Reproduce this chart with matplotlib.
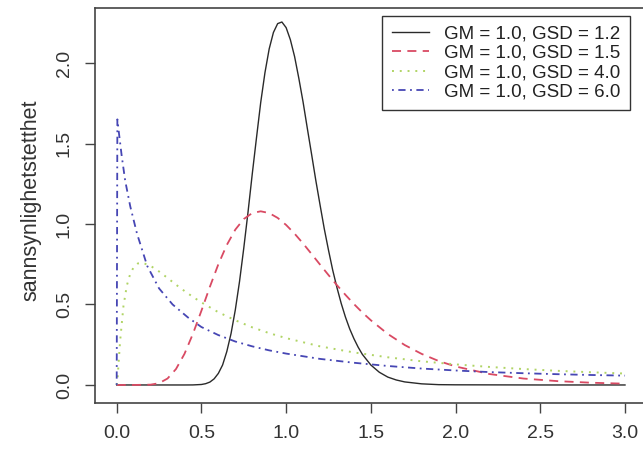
import numpy as np
import matplotlib.pyplot as plt

plt.rcParams['font.family'] = ['Liberation Sans', 'DejaVu Sans']

# values
x_12 = [0.0, 0.1, 0.2, 0.3, 0.4, 0.45, 0.5, 0.525, 0.55, 0.575, 0.6, 0.625, 0.65, 0.675,
        0.7, 0.725, 0.75, 0.775, 0.8, 0.825, 0.85, 0.875, 0.9, 0.925, 0.95, 0.975, 1.0,
        1.025, 1.05, 1.075, 1.1, 1.125, 1.15, 1.175, 1.2, 1.225, 1.25, 1.275, 1.3, 1.325,
        1.35, 1.375, 1.4, 1.425, 1.45, 1.5, 1.55, 1.6, 1.65, 1.7, 1.8, 1.9, 2.0, 2.5, 3.0]
y_12 = [0.0, 0.0, 0.0, 0.0, 0.0, 0.0003, 0.003, 0.008, 0.018, 0.038, 0.072, 0.124, 0.208, 0.320,
        0.466, 0.643, 0.850, 1.073, 1.310, 1.535, 1.755, 1.940, 2.088, 2.190, 2.245, 2.255, 2.220,
        2.145, 2.040, 1.905, 1.758, 1.595, 1.435, 1.272, 1.120, 0.971, 0.838, 0.713, 0.605, 0.507,
        0.422, 0.349, 0.288, 0.235, 0.190, 0.124, 0.079, 0.049, 0.031, 0.019, 0.007, 0.002, 0.001, 0.0, 0.0]

x_15 = [0.0, 0.1, 0.2, 0.25, 0.3, 0.35, 0.4, 0.45, 0.5, 0.55, 0.6, 0.65, 0.7, 0.75, 0.8,
        0.85, 0.9, 0.95, 1.0, 1.05, 1.1, 1.15, 1.2, 1.25, 1.3, 1.35, 1.4, 1.45, 1.5,
        1.6, 1.7, 1.8, 1.9, 2.0, 2.2, 2.4, 2.6, 2.8, 3.0]
y_15 = [0.0, 0.0, 0.002, 0.011, 0.040, 0.099, 0.193, 0.318, 0.461, 0.610, 0.750, 0.870, 0.965, 1.031, 1.068,
        1.079, 1.068, 1.038, 0.994, 0.940, 0.879, 0.814, 0.748, 0.683, 0.620, 0.560, 0.503, 0.450, 0.402,
        0.317, 0.248, 0.193, 0.149, 0.115, 0.068, 0.040, 0.024, 0.014, 0.008]

x_40 = [0.0, 0.005, 0.01, 0.02, 0.04, 0.06, 0.08, 0.1, 0.125, 0.15, 0.2, 0.25, 0.3, 0.35,
        0.4, 0.45, 0.5, 0.6, 0.7, 0.8, 0.9, 1.0, 1.2, 1.4, 1.6, 1.8, 2.0, 2.2, 2.4,
        2.6, 2.8, 3.0]
y_40 = [0.0, 0.039, 0.117, 0.271, 0.491, 0.618, 0.691, 0.731, 0.755, 0.760, 0.740, 0.705, 0.665, 0.623,
        0.584, 0.547, 0.513, 0.452, 0.402, 0.358, 0.322, 0.291, 0.240, 0.202, 0.172, 0.147, 0.128, 0.112, 0.099,
        0.088, 0.079, 0.071]

x_60 = [0.0, 0.004, 0.015, 0.03, 0.05, 0.08, 0.12, 0.18, 0.25, 0.33, 0.42, 0.5, 0.6, 0.7,
        0.8, 0.9, 1.0, 1.2, 1.4, 1.6, 1.8, 2.0, 2.2, 2.4, 2.6, 2.8, 3.0]
y_60 = [0.0, 1.65, 1.55, 1.42, 1.27, 1.11, 0.94, 0.74, 0.60, 0.50, 0.42, 0.36, 0.31, 0.27,
        0.24, 0.215, 0.195, 0.162, 0.138, 0.118, 0.102, 0.090, 0.080, 0.073, 0.067, 0.062, 0.058]

labels = ['GM = 1.0, GSD = 1.2', 'GM = 1.0, GSD = 1.5', 'GM = 1.0, GSD = 4.0', 'GM = 1.0, GSD = 6.0']

W, H = 643, 450
fig = plt.figure(figsize=(W / 100, H / 100), dpi=100)
ax = fig.add_axes([95 / W, 1 - 403 / H, 550 / W, 395 / H])

ax.plot(x_12, y_12, color='#2a2a2a', lw=1.0, label=labels[0])
ax.plot(x_15, y_15, color='#d94a63', lw=1.3, dashes=(5, 3.5), label=labels[1])
ax.plot(x_40, y_40, color='#b0d465', lw=1.4, dashes=(1, 3), label=labels[2])
ax.plot(x_60, y_60, color='#4646b4', lw=1.3, dashes=(1, 2.5, 4, 2.5), label=labels[3])

ax.set_xlim(-0.128, 3.118)
ax.set_ylim(-0.112, 2.342)
ax.set_xticks([0.0, 0.5, 1.0, 1.5, 2.0, 2.5, 3.0])
ax.set_yticks([0.0, 0.5, 1.0, 1.5, 2.0])
ax.set_xticklabels(['0.0', '0.5', '1.0', '1.5', '2.0', '2.5', '3.0'])
ax.set_yticklabels(['0.0', '0.5', '1.0', '1.5', '2.0'])
ax.tick_params(length=7, width=1, color='#444444', labelsize=14, pad=9, labelcolor='#333333')
for lab in ax.get_yticklabels():
    lab.set_rotation(90)
    lab.set_va('center')
for s in ax.spines.values():
    s.set_color('#444444')
    s.set_linewidth(1.2)

fig.text(31 / W, 1 - 200 / H, 'sannsynlighetstetthet', rotation=90, ha='center', va='center',
         fontsize=15.5, color='#333333')

leg = ax.legend(loc='upper right', bbox_to_anchor=(630 / W, 1 - 16 / H), bbox_transform=fig.transFigure,
                fontsize=13.5, frameon=True, fancybox=False, edgecolor='#333333', framealpha=1,
                handlelength=2.0, handletextpad=0.8, borderpad=0.5, labelspacing=0.12, borderaxespad=0)
leg.get_frame().set_linewidth(1.0)
for t in leg.get_texts():
    t.set_color('#222222')

plt.savefig('out.png', dpi=100)
plt.close(fig)
